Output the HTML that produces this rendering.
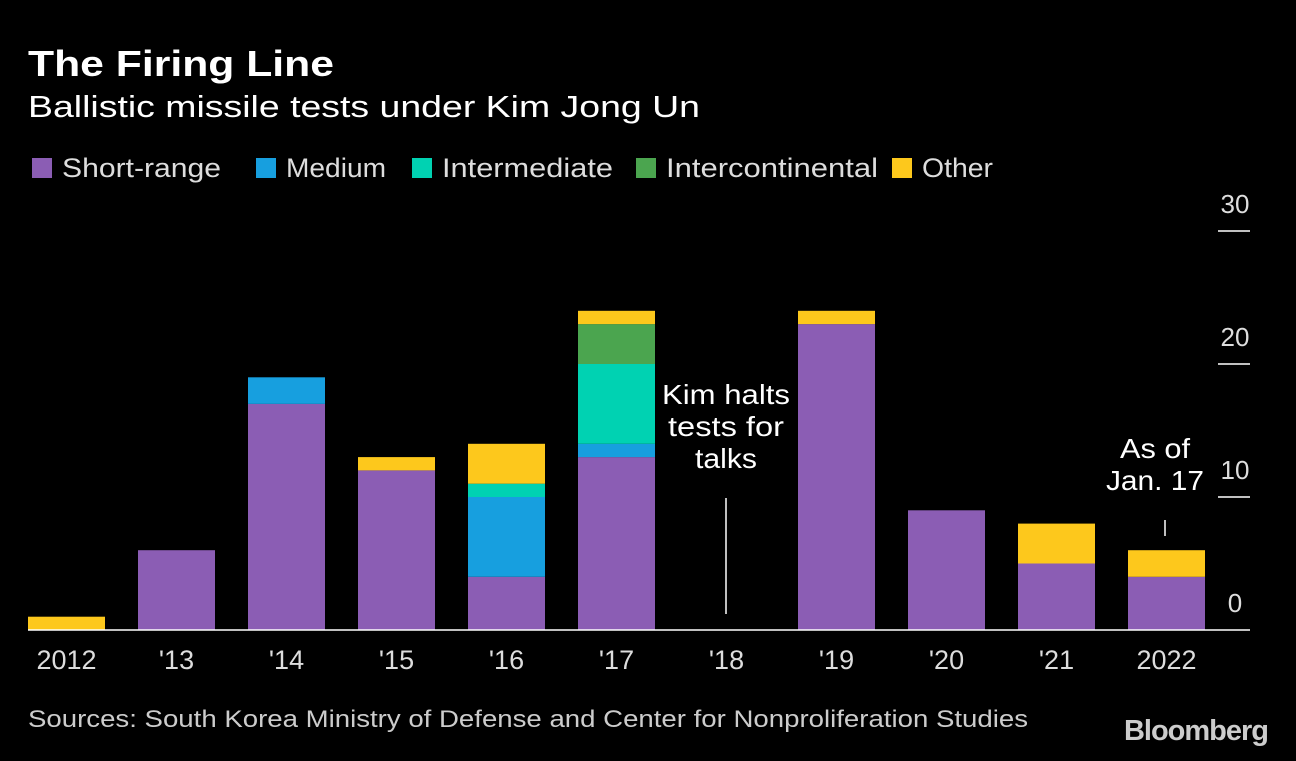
<!DOCTYPE html>
<html><head><meta charset="utf-8"><style>
body{margin:0;background:#000;width:1296px;height:756px;overflow:hidden;font-family:"Liberation Sans",sans-serif;color:#fff}
</style></head><body>
<svg width="1296" height="756">
<text x="28" y="76" font-size="36" font-weight="bold" fill="#fff" textLength="306" lengthAdjust="spacingAndGlyphs">The Firing Line</text>
<text x="28" y="117" font-size="31" fill="#fff" textLength="672" lengthAdjust="spacingAndGlyphs">Ballistic missile tests under Kim Jong Un</text>
<g id="legend"></g>
<g id="axis"></g>
<g id="bars"></g>
<g id="xlabels"></g>
<line x1="28" x2="1250" y1="630" y2="630" stroke="#fff" stroke-width="1.5"/>
<text font-size="28" text-anchor="middle" fill="#fff"><tspan x="726" y="404" textLength="128" lengthAdjust="spacingAndGlyphs">Kim halts</tspan><tspan x="726" y="436" textLength="116" lengthAdjust="spacingAndGlyphs">tests for</tspan><tspan x="726" y="468" textLength="62" lengthAdjust="spacingAndGlyphs">talks</tspan></text>
<line x1="726" x2="726" y1="498" y2="614" stroke="#fff" stroke-width="1.5"/>
<text font-size="28" text-anchor="middle" fill="#fff"><tspan x="1155" y="458" textLength="70" lengthAdjust="spacingAndGlyphs">As of</tspan><tspan x="1155" y="490" textLength="98" lengthAdjust="spacingAndGlyphs">Jan. 17</tspan></text>
<line x1="1165" x2="1165" y1="520" y2="536" stroke="#fff" stroke-width="1.5"/>
<text x="28" y="727" font-size="24" fill="#ccc" textLength="1000" lengthAdjust="spacingAndGlyphs">Sources: South Korea Ministry of Defense and Center for Nonproliferation Studies</text>
<text x="1268" y="740" font-size="29" font-weight="bold" text-anchor="end" fill="#ccc" letter-spacing="-1">Bloomberg</text>
</svg>
<script>
const categories=["2012","'13","'14","'15","'16","'17","'18","'19","'20","'21","2022"];
const shortRange=[0,6,17,12,4,13,0,23,9,5,4];
const medium=[0,0,2,0,6,1,0,0,0,0,0];
const intermediate=[0,0,0,0,1,6,0,0,0,0,0];
const intercontinental=[0,0,0,0,0,3,0,0,0,0,0];
const other=[1,0,0,1,3,1,0,1,0,3,2];
const yTicks=[0,10,20,30];
const seriesNames=["Short-range","Medium","Intermediate","Intercontinental","Other"];
const colors=["#8b5db4","#179fdf","#00d2b2","#4ba54f","#fdc81c"];
const NS="http://www.w3.org/2000/svg";
const y=v=>630-v*13.3;
const x=i=>28+i*110;
const bw=77;
function mk(t,a,p){const e=document.createElementNS(NS,t);for(const k in a)e.setAttribute(k,a[k]);p.appendChild(e);return e;}
const lg=document.getElementById('legend');
const legX=[32,256,412,636,892];
const legW=[159,100,171,212,71];
seriesNames.forEach((n,i)=>{
const r=mk('rect',{x:legX[i],y:158,width:20,height:20,fill:colors[i]},lg);


const t=mk('text',{x:legX[i]+30,y:177,'font-size':27,fill:'#ddd',textLength:legW[i],lengthAdjust:'spacingAndGlyphs'},lg);t.textContent=n;


});
const ax=document.getElementById('axis');
yTicks.forEach(v=>{
const t=mk('text',{x:1235,y:y(v)-18,'font-size':26,fill:'#ddd','text-anchor':'middle'},ax);t.textContent=v;


if(v>0){const l=mk('line',{x1:1218,x2:1250,y1:y(v),y2:y(v),stroke:'#fff','stroke-width':1.5},ax);

}
});
const bg=document.getElementById('bars');
const series=[shortRange,medium,intermediate,intercontinental,other];
categories.forEach((c,i)=>{
let base=0;
series.forEach((s,j)=>{const v=s[i];if(v>0){
const r=mk('rect',{x:x(i),y:y(base+v),width:bw,height:y(base)-y(base+v),fill:colors[j]},bg);


base+=v;}});
const t=mk('text',{x:x(i)+bw/2,y:669,'font-size':27,fill:'#ddd','text-anchor':'middle'},document.getElementById('xlabels'));
t.textContent=c;


});
</script>
</body></html>
